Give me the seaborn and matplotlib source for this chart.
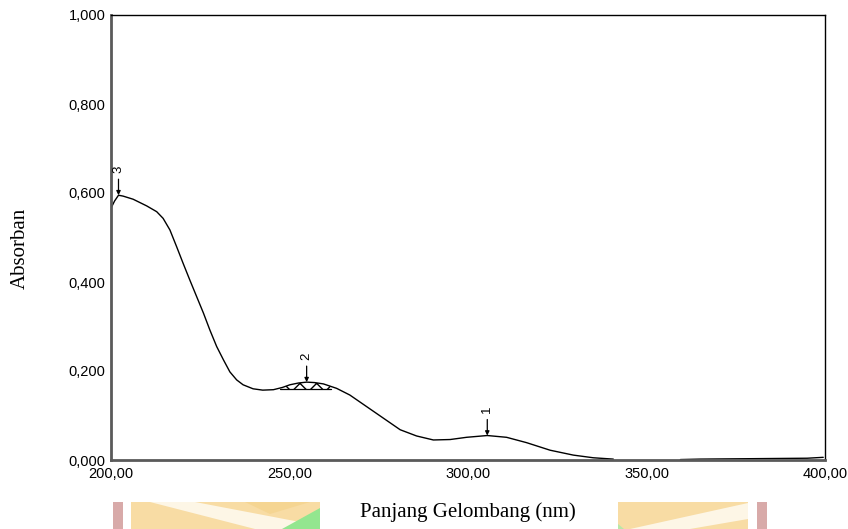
import numpy as np
import pandas as pd
import matplotlib
matplotlib.use("Agg")
import matplotlib.pyplot as plt
from matplotlib.patches import Polygon, Rectangle
from matplotlib.ticker import FuncFormatter
import seaborn as sns

# UV-Vis absorption spectrum (two recorded segments)
wavelength_a = [200, 201, 202.1, 203.4, 206.2, 210, 212.8, 214.6, 216.5, 218.4, 220.2,
                222.1, 224, 225.9, 227.7, 229.6, 231.5, 233.3, 235.2, 237, 239.8, 242.5,
                245.5, 248, 250.1, 252.5, 254.8, 257, 259.5, 263.2, 266.9, 271.6, 276.3,
                281, 285.6, 290.3, 295, 299.6, 305.4, 310.8, 316.4, 323, 329.5, 335.1,
                340.7]
absorb_a = [0.566, 0.582, 0.595, 0.593, 0.586, 0.571, 0.558, 0.543, 0.517, 0.479, 0.442,
            0.404, 0.367, 0.330, 0.292, 0.255, 0.225, 0.198, 0.180, 0.169, 0.160, 0.157,
            0.158, 0.163, 0.169, 0.173, 0.175, 0.174, 0.171, 0.161, 0.146, 0.120, 0.094,
            0.068, 0.054, 0.045, 0.046, 0.051, 0.055, 0.051, 0.039, 0.022, 0.011, 0.005,
            0.002]
wavelength_b = [359.5, 365, 380, 395, 399.5]
absorb_b = [0.001, 0.002, 0.003, 0.004, 0.006]

# Picked peaks
peak_labels = ["1", "2", "3"]
peak_wl = [305.4, 254.8, 202.1]
peak_abs = [0.055, 0.175, 0.595]

# Integrated band under peak 2
band_start, band_end, band_base = 247.3, 261.5, 0.159

xticks = [200, 250, 300, 350, 400]
yticks = [0.0, 0.2, 0.4, 0.6, 0.8, 1.0]

sns.set_theme(style="white")
plt.rcParams["font.family"] = ["Liberation Sans", "DejaVu Sans"]

fig = plt.figure(figsize=(8.48, 5.29), dpi=100)
ax = fig.add_axes([111 / 848, 1 - 460 / 529, 714 / 848, 445 / 529])

df = pd.concat([
    pd.DataFrame({"wl": wavelength_a, "A": absorb_a, "seg": "a"}),
    pd.DataFrame({"wl": wavelength_b, "A": absorb_b, "seg": "b"}),
])
sns.lineplot(data=df, x="wl", y="A", units="seg", estimator=None, color="black",
             lw=1.0, ax=ax, legend=False)
for ln in ax.lines:
    ln.set_solid_joinstyle("round")

# hatched band under peak 2
wl_arr = np.array(wavelength_a)
ab_arr = np.array(absorb_a)
bx = np.concatenate([[band_start], wl_arr[(wl_arr > band_start) & (wl_arr < band_end)],
                     [band_end]])
by = np.interp(bx, wl_arr, ab_arr)
ax.fill_between(bx, band_base, by, facecolor="none", edgecolor="black", hatch="xx", lw=0)
ax.plot([band_start, band_end], [band_base, band_base], color="black", lw=0.9)

# peak markers
for lab, px, py in zip(peak_labels, peak_wl, peak_abs):
    ax.annotate("", xy=(px, py), xytext=(px, py + 0.036),
                arrowprops=dict(arrowstyle="-|>", color="black", lw=0.9,
                                mutation_scale=6, shrinkA=0, shrinkB=0))
    ax.text(px, py + 0.05, lab, rotation=90, ha="center", va="bottom", fontsize=9.5,
            color="black")

ax.set_xlim(200, 400)
ax.set_ylim(0, 1.0)
ax.set_xticks(xticks)
ax.set_yticks(yticks)
ax.xaxis.set_major_formatter(FuncFormatter(lambda v, p: f"{v:.2f}".replace(".", ",")))
ax.yaxis.set_major_formatter(FuncFormatter(lambda v, p: f"{v:.3f}".replace(".", ",")))
ax.tick_params(axis="both", direction="in", length=8, width=1.0, color="black",
               labelsize=10.5, labelcolor="black")
ax.tick_params(axis="x", pad=5)
ax.tick_params(axis="y", pad=4)

for side in ["top", "right"]:
    ax.spines[side].set_color("black")
    ax.spines[side].set_linewidth(1.0)
for side in ["left", "bottom"]:
    ax.spines[side].set_color("#5a5a5a")
    ax.spines[side].set_linewidth(2.0)

serif = ["Liberation Serif", "DejaVu Serif"]
ax.set_xlabel("Panjang Gelombang (nm)", family=serif, fontsize=15, color="black",
              labelpad=15)
ax.set_ylabel("Absorban", family=serif, fontsize=15, color="black")
ax.yaxis.set_label_coords(-0.114, 0.476)

# faint emblem shapes behind the lower margin
def fig_px(pts):
    return [(x / 848, 1 - y / 529) for x, y in pts]

deco = [
    (fig_px([(131, 502), (320, 502), (320, 529), (131, 529)]), "#f8dca4"),
    (fig_px([(150, 502), (195, 502), (300, 522), (292, 529), (255, 529)]), "#fdf6e6"),
    (fig_px([(245, 502), (310, 502), (270, 514)]), "#f5d592"),
    (fig_px([(282, 529), (320, 508), (320, 529)]), "#93e68f"),
    (fig_px([(618, 502), (748, 502), (748, 529), (618, 529)]), "#f8dca4"),
    (fig_px([(630, 529), (748, 503), (748, 519), (690, 529)]), "#fdf6e6"),
    (fig_px([(618, 524), (624, 529), (618, 529)]), "#b8e8a8"),
]
for pts, col in deco:
    fig.patches.append(Polygon(pts, closed=True, transform=fig.transFigure,
                               facecolor=col, edgecolor="none", zorder=-5))
for x0 in (113, 757):
    fig.patches.append(Rectangle((x0 / 848, 0), 10 / 848, 27 / 529, transform=fig.transFigure,
                                 facecolor="#d8aaa9", edgecolor="none", zorder=-5))

fig.savefig("out.png", dpi=100)
